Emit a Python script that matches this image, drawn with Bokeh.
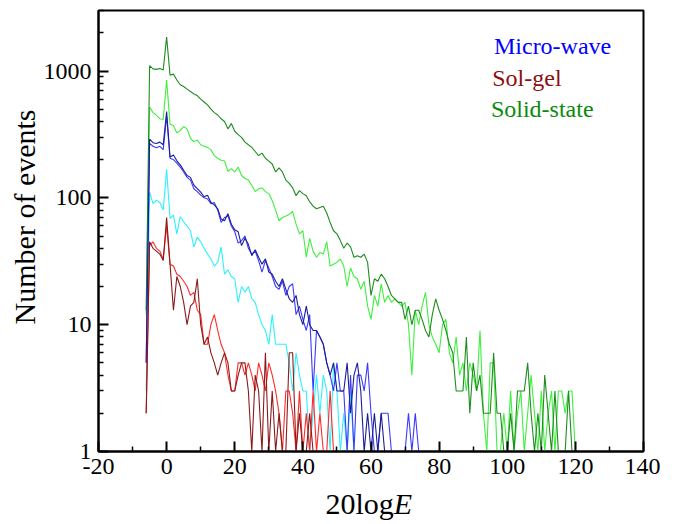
import math
from bokeh.plotting import figure
from bokeh.layouts import row, column
from bokeh.models import FixedTicker, PrintfTickFormatter, Label, ColumnDataSource
from bokeh.core.properties import value
from bokeh.embed import file_html
from bokeh.resources import INLINE

# ---- data (x = 20logE in 1 dB steps starting at -6) ----
solid_dark = [13, 1100, 1040, 1030, 1045, 1020, 1850, 925, 945, 850,
              780, 755, 720, 690, 660, 640, 600, 570, 540, 500,
              470, 450, 420, 400, 350, 385, 335, 315, 300, 275,
              262, 250, 232, 215, 225, 205, 195, 185, 160, 172,
              160, 138, 130, 120, 104, 114, 108, 104, 93, 86,
              82, 84, 86, 76, 64, 55, 52, 46, 40, 44,
              41, 34, 35, 34, 36, 31, 17, 23, 22, 25,
              23, 20, 17, 16, 15, 15, 11, 14, 10, 13,
              13, 11, 9, 8, 12, 16, 13, 11, 9, 7,
              6, 3, 3, 3, 8, 2, 5, 3, 4, 2,
              2, 2, 6, 2, 2, 1, 1, 2, 1, 3,
              3, 3, 5, 2, 1, 2, 1, 4, 2, 1,
              3, 1, 1, 1, 3, 1]
solid_light = [12, 520, 470, 450, 420, 415, 850, 380, 372, 325,
               340, 365, 350, 295, 278, 285, 262, 255, 250, 240,
               215, 205, 198, 195, 162, 170, 160, 175, 150, 142,
               138, 125, 112, 118, 120, 112, 108, 95, 80, 66,
               70, 72, 74, 78, 62, 52, 55, 34, 48, 38,
               34, 37, 36, 45, 29, 30, 31, 33, 29, 20,
               28, 24, 23, 19, 22, 14, 11, 17, 14, 21,
               15, 17, 15, 16, 15, 14, 15, 10, 4, 13,
               10, 14, 18, 10, 8, 7, 6, 10, 11, 6,
               5, 8, 4, 5, 3, 5, 4, 3, 9, 2,
               1, 5, 5, 1, 1, 2, 1, 3, 1, 2,
               3, 1, 2, 4, 2, 1, 3, 1, 2, 3,
               1, 3, 3, 2, 3, 3, 1]
micro_dark = [5, 290, 272, 268, 275, 262, 480, 210, 218, 196,
              182, 165, 150, 145, 126, 118, 111, 102, 105, 92,
              88, 82, 68, 66, 75, 62, 56, 54, 42, 48,
              43, 35, 39, 34, 30, 33, 26, 25, 22, 20,
              23, 19, 16, 15, 17, 12, 10, 14, 10, 9,
              9, 8, 7, 5, 4, 5, 3, 3, 3, 5,
              2, 4, 5, 3, 1, 2, 1, 2, 1, 2,
              1]
micro_blue = [5, 268, 255, 248, 255, 240, 440, 205, 200, 188,
              175, 160, 145, 138, 118, 112, 105, 100, 98, 90,
              92, 80, 64, 70, 72, 60, 54, 44, 46, 50,
              40, 36, 38, 32, 26, 32, 28, 24, 20, 19,
              22, 17, 20, 21, 12, 14, 11, 9, 12, 3,
              9, 8, 7, 5, 4, 3, 5, 3, 3, 1,
              4, 1, 4, 4, 3, 5, 2, 1, 1, 2,
              2, 2, 1, 1, 1, 1, 1, 2, 1, 2, 1]
micro_cyan = [3, 111, 90, 96, 92, 80, 168, 69, 73, 52,
              71, 65, 60, 55, 41, 49, 45, 40, 36, 33,
              29, 31, 41, 25, 27, 24, 23, 15, 20, 18,
              20, 16, 15, 12, 10, 9, 7, 12, 7, 7,
              7, 7, 5, 3, 6, 4, 3, 3, 1, 2,
              4, 2, 4, 3, 1, 5, 3, 1, 2, 1,
              3, 1]
solgel_red = [2, 42, 45, 40, 38, 33, 60, 30, 29, 25,
              24, 22, 20, 17, 18, 13, 12, 7, 7, 10,
              12, 9, 7, 6, 4, 3, 3, 5, 5, 4,
              5, 4, 3, 5, 4, 3, 5, 4, 3, 2,
              1, 3, 3, 2, 1, 3, 1, 2, 1, 3,
              1, 2, 1, 1, 3, 1, 1]
solgel_dark = [2, 45, 40, 38, 36, 32, 70, 30, 13, 24,
               20, 15, 10, 14, 15, 23, 10, 7, 8, 6,
               5, 4, 5, 6, 5, 3, 3, 4, 5, 5,
               3, 1, 4, 3, 1, 6, 1, 3, 1, 2,
               1, 1, 6, 6, 1, 2, 1, 1, 2, 1]
x_start = -6

x_ticks = [-20, 0, 20, 40, 60, 80, 100, 120, 140]
x_minor = [-10, 10, 30, 50, 70, 90, 110, 130]
y_ticks = [1, 10, 100, 1000]
y_minor = [m * d for d in (1, 10, 100) for m in range(2, 10)] + [2000, 3000]

legend_items = [("Micro-wave", "#0000ff"), ("Sol-gel", "#8b0f0f"), ("Solid-state", "#0a8a0a")]
y_title = "Number of events"
x_title_main = "20log"
x_title_italic = "E"

FONT = "Liberation Serif"

# ---- main plot ----
p = figure(width=620, height=486, x_range=(-20, 140), y_range=(1, 3000),
           y_axis_type="log", output_backend="svg", toolbar_location=None,
           min_border_left=55, min_border_right=17, min_border_top=10,
           min_border_bottom=35)
p.grid.visible = False
p.outline_line_color = "black"
p.outline_line_width = 2
p.background_fill_color = "white"
p.border_fill_color = "white"

series = [
    (solid_light, "#3ef03e"),
    (solid_dark, "#1e8c1e"),
    (micro_cyan, "#2ef0ff"),
    (micro_blue, "#3a3aff"),
    (micro_dark, "#1c1c99"),
    (solgel_red, "#ff2a2a"),
    (solgel_dark, "#8b1a1a"),
]
for vals, col in series:
    xs = list(range(x_start, x_start + len(vals)))
    src = ColumnDataSource(dict(x=xs, y=vals))
    p.line("x", "y", source=src, line_color=col, line_width=1.1)

p.xaxis.ticker = FixedTicker(ticks=x_ticks, minor_ticks=x_minor)
p.xaxis.major_label_overrides = {t: str(t) for t in x_ticks}
p.yaxis.ticker = FixedTicker(ticks=y_ticks, minor_ticks=y_minor)
p.yaxis.formatter = PrintfTickFormatter(format="%d")

for ax in (p.xaxis[0], p.yaxis[0]):
    ax.axis_line_width = 2
    ax.axis_line_color = "black"
    ax.major_tick_in = 10
    ax.major_tick_out = 0
    ax.minor_tick_in = 5
    ax.minor_tick_out = 0
    ax.major_tick_line_width = 2
    ax.minor_tick_line_width = 1.5
    ax.major_label_text_font = FONT
    ax.major_label_text_font_size = "24px"
    ax.major_label_text_color = "black"
p.xaxis.major_label_standoff = 7
p.yaxis.major_label_standoff = 7

# legend texts
leg_pos = [(96.1, 1575), (95.6, 881), (95.2, 504)]
for (txt, col), (lx, ly) in zip(legend_items, leg_pos):
    p.add_layout(Label(x=lx, y=ly, text=txt, text_color=col, text_font=FONT,
                       text_font_size="24px", text_baseline="alphabetic"))

# ---- y-axis title panel ----
yfig = figure(width=40, height=486, x_range=(0, 40), y_range=(0, 486),
              output_backend="svg", toolbar_location=None, min_border=0,
              x_axis_type=None, y_axis_type=None)
yfig.outline_line_color = None
yfig.grid.visible = False
yfig.text(x=[24], y=[258.5], text=[y_title], angle=math.pi / 2,
          text_align="center", text_baseline="alphabetic",
          text_font=value(FONT), text_font_size="30px", text_color="black")

# ---- x-axis title panel ----
xfig = figure(width=660, height=38, x_range=(0, 660), y_range=(0, 38),
              output_backend="svg", toolbar_location=None, min_border=0,
              x_axis_type=None, y_axis_type=None)
xfig.outline_line_color = None
xfig.grid.visible = False
xfig.text(x=[393.3], y=[21], text=[x_title_main], text_align="right",
          text_baseline="alphabetic", text_font=value(FONT),
          text_font_size="30px", text_color="black")
xfig.text(x=[393.3], y=[21], text=[x_title_italic], text_align="left",
          text_baseline="alphabetic", text_font=value(FONT),
          text_font_style="italic", text_font_size="30px", text_color="black")

layout = column(row(yfig, p), xfig)
open("out.html", "w").write(file_html(layout, INLINE))
